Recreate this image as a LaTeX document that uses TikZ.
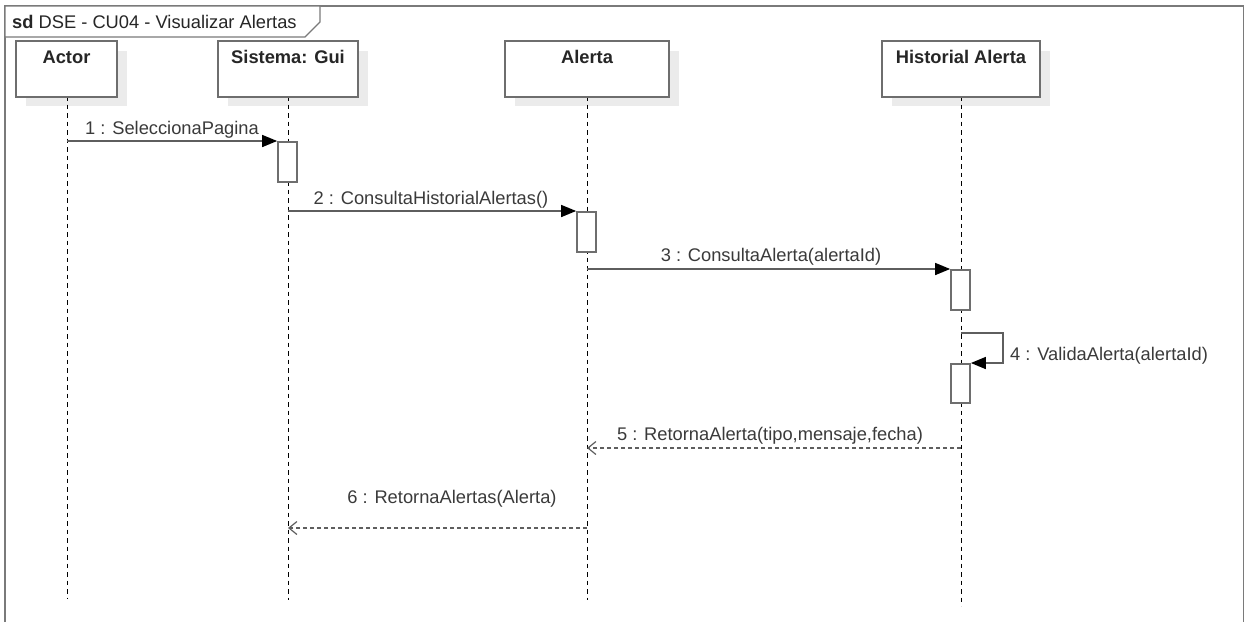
\documentclass[tikz,border=0pt]{standalone}
\usepackage{fontspec}
\setmainfont{Liberation Sans}
\usetikzlibrary{arrows.meta}
\definecolor{frame}{HTML}{7A7A7A}
\definecolor{boxline}{HTML}{6E6E6E}
\definecolor{shadow}{HTML}{EBEBEB}
\definecolor{msgline}{HTML}{5E5E5E}
\definecolor{txt}{HTML}{3A3A3A}
\tikzset{
  lifebox/.style={draw=boxline, line width=1.8pt, fill=white, minimum height=56pt, anchor=north, inner sep=0pt},
  lifehead/.style={font=\fontsize{18.3}{21}\selectfont\bfseries, text=black!85},
  lifeline/.style={draw=black, line width=1pt, dash pattern=on 4.5pt off 4pt},
  actbox/.style={draw=boxline, line width=1.7pt, fill=white, minimum width=19pt, minimum height=40pt, inner sep=0pt, anchor=north},
  call/.style={draw=msgline, line width=1.5pt, -{Triangle[length=15pt,width=12pt,fill=black,color=black]}},
  reply/.style={draw=msgline, line width=1.4pt, dash pattern=on 4pt off 3pt, -{Straight Barb[length=8pt,width=13pt,line width=1.2pt]}},
  lbl/.style={font=\fontsize{18.3}{21}\selectfont, text=txt, inner sep=0pt}
}
\begin{document}
\begin{tikzpicture}[x=1pt,y=-1pt]
\useasboundingbox (0,0) rectangle (1245,622);
% frame
\draw[frame, line width=1.8pt] (5,622) -- (5,6) -- (1243.5,6) -- (1243.5,622);
\draw[frame, line width=1.3pt, fill=white] (5,6) -- (320,6) -- (320,22) -- (305,37) -- (5,37) -- cycle;
\node[lbl, anchor=base west, text=black!85] (title) at (12,28) {\textbf{sd} DSE - CU04 - Visualizar Alertas};
% shadows
\foreach \l/\r in {16/117, 218/358, 505/669, 882/1040}{
  \fill[shadow] (\l+10,51) rectangle (\r+10,106);
}
% lifelines
\coordinate (aTop) at (67,96);   \coordinate (aBot) at (67,598);
\coordinate (gTop) at (288,96);  \coordinate (gBot) at (288,600);
\coordinate (lTop) at (587,96);  \coordinate (lBot) at (587,600);
\coordinate (hTop) at (961,96);  \coordinate (hBot) at (961,606);
\draw[lifeline] (aTop) -- (aBot);
\draw[lifeline] (gTop) -- (gBot);
\draw[lifeline] (lTop) -- (lBot);
\draw[lifeline] (hTop) -- (hBot);
% lifeline headers
\node[lifebox, minimum width=101pt] (actor) at (66.5,40) {};
\node[lifebox, minimum width=140pt] (gui) at (288,40) {};
\node[lifebox, minimum width=164pt] (alerta) at (587,40) {};
\node[lifebox, minimum width=158pt] (hist) at (961,40) {};
\node[lifehead, anchor=base] at (66.5,63) {Actor};
\node[lifehead, anchor=base] at (288,63) {Sistema: Gui};
\node[lifehead, anchor=base] at (587,63) {Alerta};
\node[lifehead, anchor=base] at (961,63) {Historial Alerta};
% activations
\node[actbox] (act1) at (287.5,141) {};
\node[actbox] (act2) at (586.5,211) {};
\node[actbox] (act3) at (960.5,269) {};
\node[actbox, minimum height=39pt] (act4) at (960.5,363) {};
% message anchors
\coordinate (m1s) at (67,141);
\coordinate (m2s) at (288,211);
\coordinate (m3s) at (587,269);
\coordinate (m4s) at (961,333);
\coordinate (m4a) at (1003,333);
\coordinate (m4b) at (1003,363);
\coordinate (m5s) at (961,448);
\coordinate (m5e) at (587,448);
\coordinate (m6s) at (587,528);
\coordinate (m6e) at (288,528);
% messages
\draw[call] (m1s) -- (act1.north west);
\node[lbl, anchor=base west] (l1) at (85,134) {1 : SeleccionaPagina};
\draw[call] (m2s) -- (act2.north west);
\node[lbl, anchor=base] (l2) at (431,204) {2 : ConsultaHistorialAlertas()};
\draw[call] (m3s) -- (act3.north west);
\node[lbl, anchor=base] (l3) at (771,261) {3 : ConsultaAlerta(alertaId)};
\draw[call] (m4s) -- (m4a) -- (m4b) -- (act4.north east);
\node[lbl, anchor=base west] (l4) at (1010,360) {4 : ValidaAlerta(alertaId)};
\draw[reply] (m5s) -- (m5e);
\node[lbl, anchor=base] (l5) at (770,440) {5 : RetornaAlerta(tipo,mensaje,fecha)};
\draw[reply] (m6s) -- (m6e);
\node[lbl, anchor=base] (l6) at (452,503) {6 : RetornaAlertas(Alerta)};
\end{tikzpicture}
\end{document}
